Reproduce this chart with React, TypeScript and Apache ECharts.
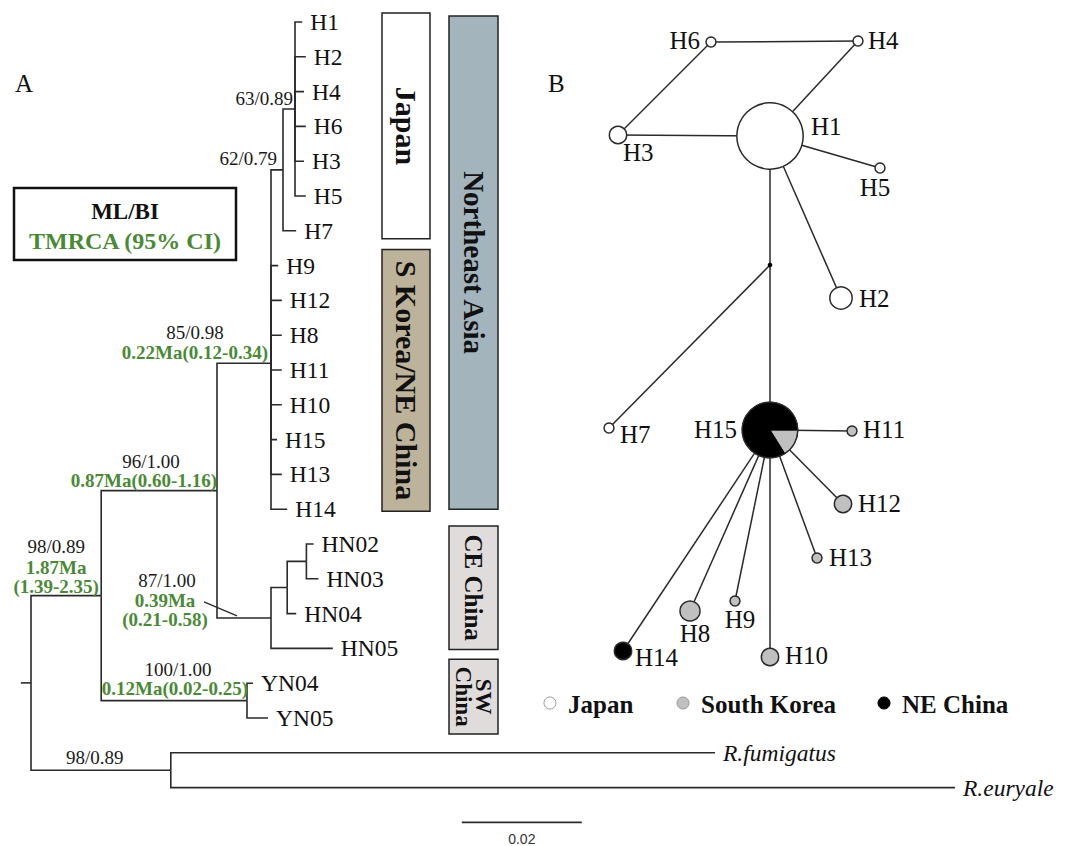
import React, { useEffect, useRef } from 'react';
import * as echarts from 'echarts';

// ---------------- Panel A: phylogeny ----------------
const leafOrder = ['H1', 'H2', 'H4', 'H6', 'H3', 'H5', 'H7', 'H9', 'H12', 'H8', 'H11', 'H10', 'H15', 'H13', 'H14', 'HN02', 'HN03', 'HN04', 'HN05', 'YN04', 'YN05', 'R.fumigatus', 'R.euryale'];
const italicLeaves = ['R.fumigatus', 'R.euryale'];

// [child, parent, branch length (substitutions/site)]
const branches: [string, string, number][] = [
  ['root', 'stub', 0.0017],
  ['ingroup', 'root', 0.0117],
  ['outgroup', 'root', 0.0233],
  ['n96', 'ingroup', 0.0193],
  ['nYN', 'ingroup', 0.0243],
  ['n85', 'n96', 0.009],
  ['n87', 'n96', 0.009],
  ['n62', 'n85', 0.002],
  ['H9', 'n85', 0.0012],
  ['H12', 'n85', 0.0018],
  ['H8', 'n85', 0.0018],
  ['H11', 'n85', 0.0018],
  ['H10', 'n85', 0.0018],
  ['H15', 'n85', 0.001],
  ['H13', 'n85', 0.0018],
  ['H14', 'n85', 0.0027],
  ['n63', 'n62', 0.002],
  ['H7', 'n62', 0.0022],
  ['H1', 'n63', 0.0012],
  ['H2', 'n63', 0.0018],
  ['H4', 'n63', 0.0015],
  ['H6', 'n63', 0.0018],
  ['H3', 'n63', 0.0015],
  ['H5', 'n63', 0.0018],
  ['nA', 'n87', 0.0027],
  ['HN05', 'n87', 0.0103],
  ['nB', 'nA', 0.0032],
  ['HN04', 'nA', 0.0015],
  ['HN02', 'nB', 0.0012],
  ['HN03', 'nB', 0.002],
  ['YN04', 'nYN', 0.001],
  ['YN05', 'nYN', 0.0035],
  ['R.fumigatus', 'outgroup', 0.0907],
  ['R.euryale', 'outgroup', 0.1307],
];

// ML / BI support values
const supportValues: [string, string][] = [
  ['n63', '63/0.89'],
  ['n62', '62/0.79'],
  ['n85', '85/0.98'],
  ['n96', '96/1.00'],
  ['ingroup', '98/0.89'],
  ['n87', '87/1.00'],
  ['nYN', '100/1.00'],
  ['outgroup', '98/0.89'],
];
// TMRCA (95% CI)
const tmrcaValues: [string, string][] = [
  ['n85', '0.22Ma(0.12-0.34)'],
  ['n96', '0.87Ma(0.60-1.16)'],
  ['ingroup', '1.87Ma\n(1.39-2.35)'],
  ['n87', '0.39Ma\n(0.21-0.58)'],
  ['nYN', '0.12Ma(0.02-0.25)'],
];

const cladeNames = ['Japan', 'S Korea/NE China', 'Northeast Asia', 'CE China', 'SW\nChina'];
const cladeFrom = ['H1', 'H9', 'H1', 'HN02', 'YN04'];
const cladeTo = ['H7', 'H14', 'H14', 'HN05', 'YN05'];

const scaleBarLength = 0.02;

// ---------------- Panel B: haplotype network ----------------
const haplotypes = ['H1', 'H2', 'H3', 'H4', 'H5', 'H6', 'H7', 'H8', 'H9', 'H10', 'H11', 'H12', 'H13', 'H14', 'H15', 'mv'];
const japanCounts = [44, 5, 3, 1, 1, 1, 1, 0, 0, 0, 0, 0, 0, 0, 0, 0];
const koreaCounts = [0, 0, 0, 0, 0, 0, 0, 4, 1, 3, 1, 3, 1, 0, 5, 0];
const neChinaCounts = [0, 0, 0, 0, 0, 0, 0, 0, 0, 0, 0, 0, 0, 3, 26, 0];
const networkEdges: [string, string][] = [
  ['H3', 'H6'], ['H6', 'H4'], ['H4', 'H1'], ['H3', 'H1'], ['H1', 'H5'], ['H1', 'H2'], ['H1', 'mv'],
  ['mv', 'H7'], ['mv', 'H15'], ['H15', 'H11'], ['H15', 'H12'], ['H15', 'H13'], ['H15', 'H10'],
  ['H15', 'H9'], ['H15', 'H8'], ['H15', 'H14'],
];
const legendNames = ['Japan', 'South Korea', 'NE China'];

// ---------------- layout & style (not data) ----------------
const SERIF = "'Liberation Serif', 'Times New Roman', serif";
const LINE = '#2a2a2a';
const GREEN = '#4a8a36';
const regionColors = ['#ffffff', '#c0c0c0', '#000000'];

const annLayout: Record<string, { dx: number; dy: number; align: string; line?: number[] }> = {
  's:n63': { dx: -2, dy: -11, align: 'right' },
  's:n62': { dx: -6, dy: -11, align: 'right' },
  's:n85': { dx: -76, dy: -31, align: 'center' },
  's:n96': { dx: -66, dy: -29, align: 'center' },
  's:ingroup': { dx: -45, dy: -49, align: 'center' },
  's:n87': { dx: -104, dy: -37, align: 'center', line: [-67, -16, -34, -2] },
  's:nYN': { dx: -69, dy: -31, align: 'center' },
  's:outgroup': { dx: -76, dy: -13, align: 'center' },
  't:n85': { dx: -3, dy: -11, align: 'right' },
  't:n96': { dx: 0, dy: -10, align: 'right' },
  't:ingroup': { dx: -45, dy: -19, align: 'center' },
  't:n87': { dx: -106, dy: -8, align: 'center' },
  't:nYN': { dx: 1, dy: -12, align: 'right' },
};
const cladeLayout = [
  { x0: 382, x1: 430, padTop: -9, padBottom: 8, fill: '#ffffff', fontSize: 30 },
  { x0: 382, x1: 430, padTop: -16, padBottom: 2, fill: '#bdb39b', fontSize: 30 },
  { x0: 449, x1: 498, padTop: -6, padBottom: 0, fill: '#a3b4bd', fontSize: 29 },
  { x0: 449, x1: 498, padTop: -18, padBottom: 1, fill: '#e0dcdc', fontSize: 25 },
  { x0: 449, x1: 498, padTop: -24, padBottom: 16, fill: '#e0dcdc', fontSize: 23 },
];
const scaleBarPos = { x: 0.0735, y: 23 };

// network node positions (panel units)
const networkLayout: Record<string, [number, number]> = {
  H1: [23.0, 13.6], H2: [30.1, 29.8], H3: [7.8, 13.5], H4: [31.8, 4.1], H5: [34.0, 16.8],
  H6: [17.1, 4.2], H7: [6.9, 42.8], mv: [23.0, 26.5], H15: [23.0, 43.0], H11: [31.2, 43.1],
  H12: [30.3, 50.4], H13: [27.7, 55.8], H9: [19.5, 60.1], H8: [15.0, 61.1], H10: [23.0, 65.7],
  H14: [8.3, 65.1],
};
const netLabelLayout: Record<string, { dx: number; dy: number; align: string }> = {
  H1: { dx: 41, dy: -10, align: 'left' }, H2: { dx: 18, dy: 0, align: 'left' },
  H3: { dx: 5, dy: 17, align: 'left' }, H4: { dx: 10, dy: -1, align: 'left' },
  H5: { dx: -5, dy: 19, align: 'center' }, H6: { dx: -11, dy: -2, align: 'right' },
  H7: { dx: 11, dy: 6, align: 'left' }, H15: { dx: -33, dy: -1, align: 'right' },
  H11: { dx: 11, dy: -2, align: 'left' }, H12: { dx: 15, dy: -1, align: 'left' },
  H13: { dx: 12, dy: -1, align: 'left' }, H9: { dx: 5, dy: 18, align: 'center' },
  H8: { dx: 5, dy: 22, align: 'center' }, H10: { dx: 15, dy: -2, align: 'left' },
  H14: { dx: 12, dy: 6, align: 'left' },
};

// ---------------- tree computation ----------------
type TNode = { name: string; parent?: string; len: number; x: number; y: number; children: string[]; leaf: boolean };
const nodeByName: Record<string, TNode> = {};
const getNode = (name: string) => {
  if (!nodeByName[name]) nodeByName[name] = { name, len: 0, x: 0, y: 0, children: [], leaf: false };
  return nodeByName[name];
};
getNode('stub');
branches.forEach(([c, p, l]) => {
  const cn = getNode(c);
  cn.parent = p;
  cn.len = l;
  getNode(p).children.push(c);
});
const layX = (name: string, x0: number) => {
  const n = nodeByName[name];
  n.x = x0 + n.len;
  n.children.forEach((c) => layX(c, n.x));
};
layX('stub', 0);
const layY = (name: string): number => {
  const n = nodeByName[name];
  if (n.children.length === 0) {
    n.leaf = true;
    n.y = leafOrder.indexOf(name);
  } else {
    const ys = n.children.map(layY);
    n.y = ys.reduce((a, b) => a + b, 0) / ys.length;
  }
  return n.y;
};
layY('stub');
const treeNodes = Object.values(nodeByName);

const annItems = [
  ...supportValues.map(([node, text]) => ({ node, text, key: 's:' + node, kind: 's' })),
  ...tmrcaValues.map(([node, text]) => ({ node, text, key: 't:' + node, kind: 't' })),
];

const txt = (x: number, y: number, text: string, o: any = {}) => ({
  type: 'text',
  x,
  y,
  style: {
    text,
    fontFamily: SERIF,
    fontSize: o.fontSize || 23,
    fontWeight: o.fontWeight || 'normal',
    fontStyle: o.fontStyle || 'normal',
    fill: o.fill || '#111',
    align: o.align || 'left',
    verticalAlign: 'middle',
    textAlign: o.align || 'left',
    textVerticalAlign: 'middle',
    lineHeight: o.lineHeight,
  },
  rotation: o.rotation || 0,
});

function buildOption() {
  const series: any[] = [];

  // clade boxes
  series.push({
    type: 'custom',
    xAxisIndex: 0,
    yAxisIndex: 0,
    z: 1,
    data: cladeNames.map((_, i) => [0, leafOrder.indexOf(cladeFrom[i]), leafOrder.indexOf(cladeTo[i])]),
    renderItem: (params: any, api: any) => {
      const i = params.dataIndex;
      const L = cladeLayout[i];
      const yTop = api.coord([0, api.value(1)])[1] + L.padTop;
      const yBot = api.coord([0, api.value(2)])[1] + L.padBottom;
      return {
        type: 'group',
        children: [
          { type: 'rect', shape: { x: L.x0, y: yTop, width: L.x1 - L.x0, height: yBot - yTop }, style: { fill: L.fill, stroke: '#222', lineWidth: 1.5 } },
          txt((L.x0 + L.x1) / 2, (yTop + yBot) / 2, cladeNames[i], { fontSize: L.fontSize, fontWeight: 'bold', align: 'center', rotation: -Math.PI / 2, lineHeight: L.fontSize * 0.85 }),
        ],
      };
    },
  });

  // tree branches + tip labels
  series.push({
    type: 'custom',
    xAxisIndex: 0,
    yAxisIndex: 0,
    z: 2,
    data: treeNodes.map((n) => [n.x, n.y]),
    renderItem: (params: any, api: any) => {
      const n = treeNodes[params.dataIndex];
      const kids: any[] = [];
      if (n.parent) {
        const p = nodeByName[n.parent];
        const a = api.coord([p.x, p.y]);
        const b = api.coord([p.x, n.y]);
        const c = api.coord([n.x, n.y]);
        kids.push({ type: 'polyline', shape: { points: [a, b, c] }, style: { stroke: LINE, lineWidth: 1.6, fill: 'none' } });
      }
      if (n.leaf) {
        const c = api.coord([n.x, n.y]);
        kids.push(txt(c[0] + 8, c[1], n.name, { fontSize: 23.5, lineHeight: 24, fontStyle: italicLeaves.includes(n.name) ? 'italic' : 'normal' }));
      }
      return { type: 'group', children: kids };
    },
  });

  // node annotations
  series.push({
    type: 'custom',
    xAxisIndex: 0,
    yAxisIndex: 0,
    z: 3,
    data: annItems.map((a) => [nodeByName[a.node].x, nodeByName[a.node].y]),
    renderItem: (params: any, api: any) => {
      const it = annItems[params.dataIndex];
      const L = annLayout[it.key];
      const c = api.coord([api.value(0), api.value(1)]);
      const kids: any[] = [];
      if (it.kind === 's') {
        kids.push(txt(c[0] + L.dx, c[1] + L.dy, it.text, { fontSize: 19, align: L.align, fill: '#1a1a1a', lineHeight: 19 }));
      } else {
        kids.push(txt(c[0] + L.dx, c[1] + L.dy, it.text, { fontSize: 19, fontWeight: 'bold', align: L.align, fill: GREEN, lineHeight: 19 }));
      }
      if (L.line) {
        kids.push({ type: 'line', shape: { x1: c[0] + L.line[0], y1: c[1] + L.line[1], x2: c[0] + L.line[2], y2: c[1] + L.line[3] }, style: { stroke: LINE, lineWidth: 1.3 } });
      }
      return { type: 'group', children: kids };
    },
  });

  // scale bar
  series.push({
    type: 'custom',
    xAxisIndex: 0,
    yAxisIndex: 0,
    z: 3,
    data: [[scaleBarPos.x, scaleBarPos.y, scaleBarPos.x + scaleBarLength]],
    renderItem: (params: any, api: any) => {
      const a = api.coord([api.value(0), api.value(1)]);
      const b = api.coord([api.value(2), api.value(1)]);
      return {
        type: 'group',
        children: [
          { type: 'line', shape: { x1: a[0], y1: a[1], x2: b[0], y2: b[1] }, style: { stroke: LINE, lineWidth: 1.6 } },
          {
            type: 'text', x: (a[0] + b[0]) / 2, y: a[1] + 17,
            style: { text: String(scaleBarLength), fontFamily: "'Liberation Sans', Arial, sans-serif", fontSize: 14, fill: '#333', align: 'center', verticalAlign: 'middle', textAlign: 'center', textVerticalAlign: 'middle' },
          },
        ],
      };
    },
  });

  // network edges
  series.push({
    type: 'custom',
    xAxisIndex: 1,
    yAxisIndex: 1,
    z: 2,
    data: networkEdges.map(([a, b]) => [...networkLayout[a], ...networkLayout[b]]),
    renderItem: (params: any, api: any) => {
      const a = api.coord([api.value(0), api.value(1)]);
      const b = api.coord([api.value(2), api.value(3)]);
      return { type: 'line', shape: { x1: a[0], y1: a[1], x2: b[0], y2: b[1] }, style: { stroke: LINE, lineWidth: 1.5 } };
    },
  });

  // network nodes
  series.push({
    type: 'custom',
    xAxisIndex: 1,
    yAxisIndex: 1,
    z: 3,
    data: haplotypes.map((h) => networkLayout[h]),
    renderItem: (params: any, api: any) => {
      const i = params.dataIndex;
      const name = haplotypes[i];
      const c = api.coord([api.value(0), api.value(1)]);
      const counts = [japanCounts[i], koreaCounts[i], neChinaCounts[i]];
      const total = counts[0] + counts[1] + counts[2];
      const kids: any[] = [];
      if (total === 0) {
        kids.push({ type: 'circle', shape: { cx: c[0], cy: c[1], r: 2.3 }, style: { fill: '#000' } });
        return { type: 'group', children: kids };
      }
      const r = 5 * Math.sqrt(total);
      const nonzero = counts.filter((v) => v > 0).length;
      if (nonzero === 1) {
        const k = counts.findIndex((v) => v > 0);
        kids.push({ type: 'circle', shape: { cx: c[0], cy: c[1], r }, style: { fill: regionColors[k], stroke: '#2a2a2a', lineWidth: 1.5 } });
      } else {
        // pie: Korea slice from east clockwise, remainder NE China / Japan
        let ang = 0;
        const order = [1, 2, 0];
        order.forEach((k) => {
          if (counts[k] === 0) return;
          const sweep = (counts[k] / total) * Math.PI * 2;
          kids.push({ type: 'sector', shape: { cx: c[0], cy: c[1], r0: 0, r, startAngle: ang, endAngle: ang + sweep, clockwise: true }, style: { fill: regionColors[k], stroke: k === 1 ? '#2a2a2a' : regionColors[k], lineWidth: 1 } });
          ang += sweep;
        });
        kids.push({ type: 'circle', shape: { cx: c[0], cy: c[1], r }, style: { fill: 'none', stroke: '#2a2a2a', lineWidth: 1.5 } });
      }
      const L = netLabelLayout[name];
      kids.push(txt(c[0] + L.dx, c[1] + L.dy, name, { fontSize: 25, align: L.align }));
      return { type: 'group', children: kids };
    },
  });

  const legendX = [550, 683, 884];
  const graphic: any[] = [
    txt(15, 83, 'A', { fontSize: 25 }),
    txt(548, 83, 'B', { fontSize: 25 }),
    { type: 'rect', shape: { x: 14, y: 188, width: 222, height: 72 }, style: { fill: '#fff', stroke: '#111', lineWidth: 2.5 } },
    txt(125, 211, 'ML/BI', { fontSize: 23, fontWeight: 'bold', align: 'center' }),
    txt(125, 241, 'TMRCA (95% CI)', { fontSize: 24, fontWeight: 'bold', align: 'center', fill: GREEN }),
  ];
  legendNames.forEach((n, k) => {
    graphic.push({ type: 'circle', shape: { cx: legendX[k], cy: 703, r: 6 }, style: { fill: regionColors[k], stroke: k === 2 ? '#000' : '#9a9a9a', lineWidth: 1 } });
    graphic.push(txt(legendX[k] + 18, 704, n, { fontSize: 25, fontWeight: 'bold' }));
  });

  return {
    animation: false,
    backgroundColor: '#ffffff',
    grid: [
      { left: 20.8, top: 22, width: 1020, height: 800.4 },
      { left: 540, top: 0, width: 541, height: 846 },
    ],
    xAxis: [
      { type: 'value', gridIndex: 0, min: 0, max: 0.17, show: false },
      { type: 'value', gridIndex: 1, min: 0, max: 54.1, show: false },
    ],
    yAxis: [
      { type: 'value', gridIndex: 0, min: 0, max: 23, inverse: true, show: false },
      { type: 'value', gridIndex: 1, min: 0, max: 84.6, inverse: true, show: false },
    ],
    series,
    graphic,
  };
}

export default function App() {
  const ref = useRef<HTMLDivElement>(null);
  useEffect(() => {
    const chart = echarts.init(ref.current as HTMLDivElement, null, { renderer: 'svg' });
    chart.setOption(buildOption() as any);
    return () => chart.dispose();
  }, []);
  return (
    <div
      ref={ref}
      style={{ position: 'absolute', left: 0, top: 0, width: 1081, height: 846, background: '#fff' }}
    />
  );
}
